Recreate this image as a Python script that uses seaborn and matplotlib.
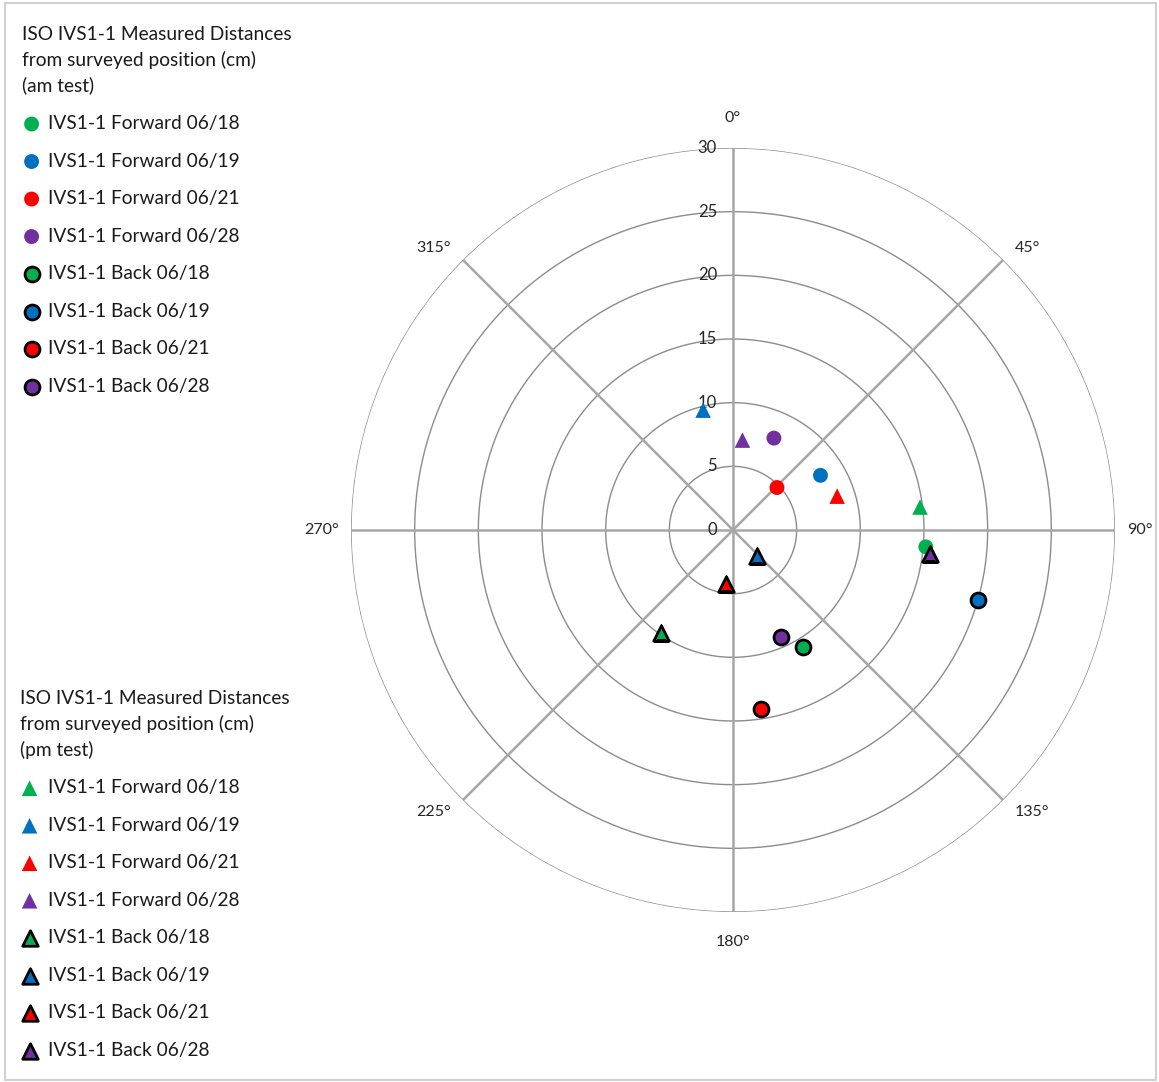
import numpy as np
import pandas as pd
import matplotlib
matplotlib.use("Agg")
import matplotlib.pyplot as plt
from matplotlib.patches import Rectangle
from matplotlib.transforms import offset_copy
import seaborn as sns

# Series labels and colours
dates = ["06/18", "06/19", "06/21", "06/28"]
colors = ["#00B050", "#0070C0", "#FF0000", "#7030A0"]

# am test: distance (cm) and bearing (deg, clockwise from north)
am_forward_r = [15.2, 8.1, 4.8, 7.9]
am_forward_deg = [95, 58, 46, 24]
am_back_r = [10.7, 20.0, 14.2, 9.2]
am_back_deg = [149, 106, 171, 156]

# pm test
pm_forward_r = [14.8, 9.7, 8.6, 7.1]
pm_forward_deg = [83, 346, 72, 6]
pm_back_r = [9.9, 2.8, 4.3, 15.6]
pm_back_deg = [215, 138, 187, 97]

r_ticks = [0, 5, 10, 15, 20, 25, 30]
theta_ticks = [0, 45, 90, 135, 180, 225, 270, 315]
theta_labels = ["0°", "45°", "90°", "135°", "180°", "225°", "270°", "315°"]

am_title = "ISO IVS1-1 Measured Distances\nfrom surveyed position (cm)\n(am test)"
pm_title = "ISO IVS1-1 Measured Distances\nfrom surveyed position (cm)\n(pm test)"

sns.set_style("white")
plt.rcParams["font.family"] = ["Lato", "DejaVu Sans"]

W, H = 1159, 1082
fig = plt.figure(figsize=(W / 100, H / 100), dpi=100)
ax = fig.add_axes([351 / W, (H - 912) / H, 764 / W, 764 / H], projection="polar")
ax.set_theta_zero_location("N")
ax.set_theta_direction(-1)

groups = [
    ("Forward", am_forward_r, am_forward_deg, "o", False),
    ("Back", am_back_r, am_back_deg, "o", True),
    ("Forward", pm_forward_r, pm_forward_deg, "^", False),
    ("Back", pm_back_r, pm_back_deg, "^", True),
]

handles = []
for kind, rs, degs, marker, edged in groups:
    for i, d in enumerate(dates):
        df = pd.DataFrame({"theta": [np.deg2rad(degs[i])], "r": [rs[i]]})
        sns.scatterplot(
            data=df, x="theta", y="r", ax=ax,
            marker=marker, s=115 if marker == "o" else 125,
            color=colors[i],
            edgecolor="black" if edged else "none",
            linewidth=2.0 if edged else 0,
            label=f"IVS1-1 {kind} {d}", legend=False, zorder=5,
        )
        handles.append(ax.collections[-1])

ax.set_xlabel("")
ax.set_ylabel("")
ax.set_ylim(0, 30)
ax.set_yticks(r_ticks)
ax.set_yticklabels([])
ax.set_xticks(np.deg2rad(theta_ticks))
ax.set_xticklabels([])
ax.grid(False)

# radial circles and spokes
for rv in r_ticks[1:]:
    ax.plot(np.linspace(0, 2 * np.pi, 400), [rv] * 400, color="#8c8c8c", lw=1.0, zorder=1)
for t in theta_ticks:
    ax.plot([np.deg2rad(t)] * 2, [0, 30], color="#a6a6a6", lw=1.8, zorder=1)
ax.spines["polar"].set_visible(False)

# angle labels just outside the outer ring
for t, lab in zip(theta_ticks, theta_labels):
    s, c = np.sin(np.deg2rad(t)), np.cos(np.deg2rad(t))
    if abs(s) < 1e-6:
        off, ha, va = (0, 23 * np.sign(c)), "center", ("bottom" if c > 0 else "top")
    else:
        off = (12 * np.sign(s), 12 * np.sign(c) if abs(c) > 1e-6 else 0)
        ha, va = ("left" if s > 0 else "right"), "center"
    ax.annotate(lab, xy=(np.deg2rad(t), 30), xytext=off, textcoords="offset pixels",
                ha=ha, va=va, fontsize=11.5, color="#262626", annotation_clip=False)

# radial value labels along the 0° spoke
lab_tr = offset_copy(ax.transData, fig=fig, x=-11.5, y=0, units="points")
for rv in r_ticks:
    ax.text(0, rv, str(rv), transform=lab_tr, ha="right", va="center",
            fontsize=12, color="#262626", zorder=3)

leg_kw = dict(frameon=False, loc="upper left", alignment="left", fontsize=13.8,
              title_fontsize=13.8, handlelength=1.0,
              labelspacing=1.07, borderpad=0, borderaxespad=0)

leg1 = fig.legend(handles[:8], [h.get_label() for h in handles[:8]], title=am_title,
                  bbox_to_anchor=(22 / W, 1 - 26 / H), handletextpad=0.35, **leg_kw)
leg2 = fig.legend(handles[8:], [h.get_label() for h in handles[8:]], title=pm_title,
                  bbox_to_anchor=(20 / W, 1 - 690 / H), handletextpad=0.45, **leg_kw)
for lg in (leg1, leg2):
    lg.get_title().set_linespacing(1.52)
    for t in lg.get_texts():
        t.set_color("#1a1a1a")
    lg.get_title().set_color("#1a1a1a")

fig.add_artist(Rectangle((5 / W, 2 / H), (W - 8) / W, (H - 5) / H, transform=fig.transFigure,
                         fill=False, ec="#d0d0d0", lw=1.5))

fig.savefig("out.png", dpi=100)
